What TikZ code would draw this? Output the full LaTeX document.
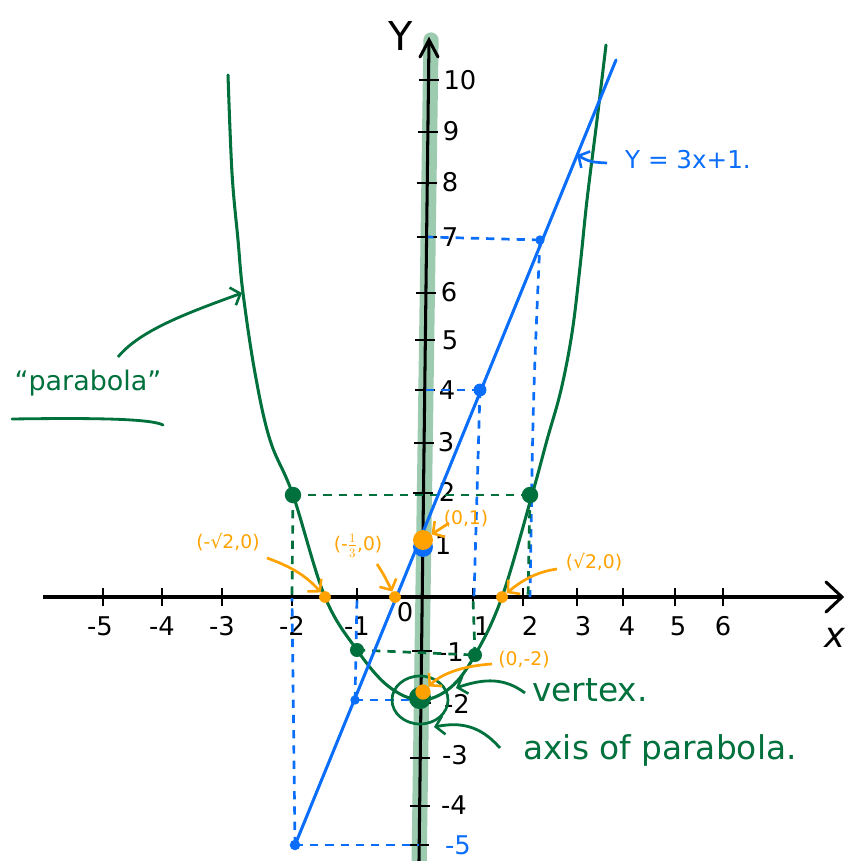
\documentclass[tikz,border=0pt]{standalone}
\usepackage{fontspec}
\setmainfont{DejaVu Sans}
\usetikzlibrary{arrows.meta}
\definecolor{pgreen}{HTML}{00703C}
\definecolor{band}{HTML}{9CCBB0}
\definecolor{pblue}{HTML}{0A6EFA}
\definecolor{porange}{HTML}{FFA200}
\begin{document}
\begin{tikzpicture}[x=0.03cm,y=-0.03cm,
  axisline/.style={line width=2.6pt,black},
  tickline/.style={line width=2.4pt,black},
  numlab/.style={font=\fontsize{22}{26}\selectfont,inner sep=0pt},
  olab/.style={font=\fontsize{16}{19}\selectfont,text=porange,inner sep=0pt},
  glab/.style={font=\fontsize{28}{32}\selectfont,text=pgreen,inner sep=0pt},
  bdash/.style={pblue,line width=2.3pt,dash pattern=on 7pt off 6pt},
  gdash/.style={pgreen,line width=2.3pt,dash pattern=on 7pt off 6pt},
  barb/.style={-{Straight Barb[length=7pt,width=16pt,line width=2.2pt]}},
  gdot/.style={circle,fill=pgreen,inner sep=0pt,minimum size=14pt},
  odot/.style={circle,fill=porange,inner sep=0pt,minimum size=10pt},
  bdot/.style={circle,fill=pblue,inner sep=0pt,minimum size=8pt}]
\useasboundingbox (0,0) rectangle (853,861);
% ---- axis of symmetry band and y axis
\coordinate (ybot) at (419,861);
\coordinate (ytop) at (429,40);
\draw[band,line width=13pt,line cap=round] (431,40) -- (419,870);
\draw[axisline] (ybot) -- (ytop);
\draw[line width=2.6pt,line cap=round] (420,57) -- (ytop) -- (438,57);
\foreach \yy in {80,132,183,237,293,340,390,443,493,651,703,758,806,845}{
  \pgfmathsetmacro{\xx}{429-10*(\yy-40)/821}
  \draw[tickline] (\xx-10,\yy) -- (\xx+10,\yy);
}
% ---- x axis
\coordinate (xl) at (43,597);
\coordinate (xr) at (842,597);
\draw[axisline] (xl) -- (xr);
\draw[line width=2.6pt,line cap=round] (826,582) -- (xr) -- (826,612);
\foreach \xx in {103,162,222,292,357,473,523,577,623,675,723}{
  \draw[tickline] (\xx,588) -- (\xx,606);
}
% ---- axis labels
\node[font=\fontsize{34}{38}\selectfont,inner sep=0pt] (Ylab) at (401,36) {Y};
\node[font=\fontsize{30}{34}\selectfont\itshape,inner sep=0pt] (xlab) at (835,638) {x};
\foreach \xx/\tt in {100/-5,162/-4,222/-3,292/-2,357/-1,482/1,530/2,583/3,627/4,678/5,723/6}{
  \node[numlab] at (\xx,626) {\tt};
}
\node[numlab] (zero) at (405,612) {0};
\foreach \yy/\tt/\xx in {80/10/460,131/9/451,182/8/450,237/7/450,292/6/449,340/5/450,390/4/447,442/3/446,492/2/447,545/1/443,652/-1/451,704/-2/457,755/-3/455,805/-4/454}{
  \node[numlab] at (\xx,\yy) {\tt};
}
\node[numlab,text=pblue] (m5) at (458,845) {-5};
% ---- points
\coordinate (Pm2) at (293,495);
\coordinate (Pp2) at (530,495);
\coordinate (Pm1) at (357,650);
\coordinate (Pp1) at (475,655);
\coordinate (V) at (420,698);
\coordinate (L7) at (540,240);
\coordinate (L4) at (480,390);
\coordinate (Lm2) at (355,700);
\coordinate (Lm5) at (295,845);
% ---- dashed guides
\draw[bdash] (L7) -- (428,237);
\draw[bdash] (L7) .. controls (533,400) .. (530,597);
\draw[bdash] (L4) -- (424,390);
\draw[bdash] (L4) -- (474,597);
\draw[bdash] (Lm2) -- (420,700);
\draw[bdash] (Lm2) -- (357,598);
\draw[bdash] (Lm5) -- (419,845);
\draw[bdash] (Lm5) -- (292,598);
\draw[gdash] (Pm2) -- (Pp2);
\draw[gdash] (Pm2) -- (292,597);
\draw[gdash] (Pp2) -- (528,597);
\draw[gdash] (Pm1) -- (Pp1);
\draw[gdash] (Pp1) -- (473,598);
% ---- parabola
\draw[pgreen,line width=2.6pt,line cap=round] plot[smooth,tension=0.6] coordinates {
 (228,75) (232,173) (238,240) (243,293) (255,373) (270,440) (293,495)
 (325,597) (357,650) (388,686) (420,700) (450,688) (475,655) (502,597)
 (532,495) (547,440) (561,390) (572,333) (580,267) (587,200) (597,120) (606,45)};
% ---- line y = 3x+1
\draw[pblue,line width=2.6pt,line cap=round] (Lm5) -- (616,60);
% ---- dots
\node[bdot] (b7) at (L7) {};
\node[bdot,minimum size=11pt] (b4) at (L4) {};
\node[bdot] (bm2) at (Lm2) {};
\node[bdot,minimum size=9pt] (bm5) at (Lm5) {};
\node[bdot,minimum size=17pt] (b1) at (423,547) {};
\node[gdot] (g1) at (Pm2) {};
\node[gdot] (g2) at (Pp2) {};
\node[gdot,minimum size=12pt] (g3) at (Pm1) {};
\node[gdot,minimum size=12pt] (g4) at (Pp1) {};
\node[gdot,minimum size=19pt] (gv) at (V) {};
\node[odot] (o1) at (325,597) {};
\node[odot] (o2) at (395,597) {};
\node[odot] (o3) at (502,597) {};
\node[odot,minimum size=17pt] (o4) at (423,540) {};
\node[odot,minimum size=13pt] (o5) at (423,692) {};
\draw[pgreen,line width=2.3pt] (420,700) ellipse [x radius=28,y radius=24];
% ---- orange labels and arrows
\node[olab] (lm2) at (228,542) {(-√2,0)};
\node[olab] (lm13) at (358,546) {(-$\frac{1}{3}$,0)};
\node[olab] (l01) at (466,519) {(0,1)};
\node[olab] (lp2) at (594,562) {(√2,0)};
\node[olab] (l0m2) at (524,660) {(0,-2)};
\coordinate (a1s) at (267,558);
\draw[porange,line width=2.3pt,barb] (a1s) .. controls (295,568) and (308,578) .. (o1);
\coordinate (a2s) at (377,564);
\draw[porange,line width=2.3pt,barb] (a2s) .. controls (384,575) .. (o2);
\coordinate (a3s) at (449,523);
\draw[porange,line width=2.3pt,barb] (a3s) -- (o4);
\coordinate (a4s) at (557,569);
\draw[porange,line width=2.3pt,barb] (a4s) .. controls (535,572) and (520,582) .. (o3);
\coordinate (a5s) at (492,664);
\draw[porange,line width=2.3pt,barb] (a5s) .. controls (460,666) and (440,675) .. (o5);
% ---- green annotations
\node[glab] (vtx) at (590,690) {vertex.};
\node[glab] (axp) at (660,750) {axis of parabola.};
\coordinate (v1) at (525,693);
\draw[pgreen,line width=2.4pt,barb] (v1) .. controls (505,678) and (485,678) .. (456,688);
\coordinate (ax1) at (500,748);
\draw[pgreen,line width=2.4pt,barb] (ax1) .. controls (480,725) and (460,722) .. (434,727);
\node[glab,font=\fontsize{23}{27}\selectfont] (parab) at (88,383) {“parabola”};
\draw[pgreen,line width=2.4pt,line cap=round] (12,419) .. controls (80,418) and (150,418) .. (163,425);
\coordinate (pa) at (118,357);
\draw[pgreen,line width=2.4pt,barb] (pa) .. controls (140,330) and (190,312) .. (242,293);
% ---- line label
\node[font=\fontsize{21}{25}\selectfont,text=pblue,inner sep=0pt] (eq) at (688,160) {Y = 3x+1.};
\coordinate (e1) at (607,163);
\draw[pblue,line width=2.3pt,barb] (e1) .. controls (590,162) .. (577,155);
\end{tikzpicture}
\end{document}
